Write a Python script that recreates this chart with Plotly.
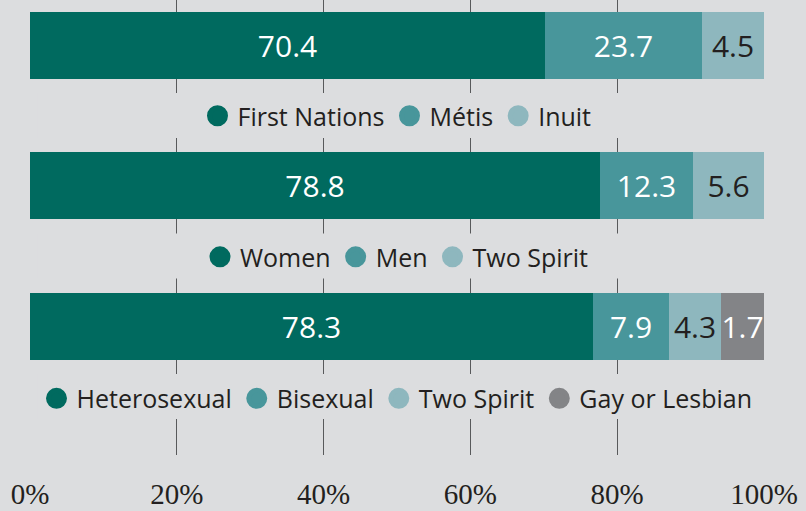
import plotly.graph_objects as go

# ---- data ----
groups = ["Indigenous identity", "Gender", "Sexual orientation"]

identity_names = ["First Nations", "Métis", "Inuit"]
identity_labels = ["70.4", "23.7", "4.5"]
identity_lengths = [70.2, 21.3, 8.5]      # drawn bar lengths (%)

gender_names = ["Women", "Men", "Two Spirit"]
gender_labels = ["78.8", "12.3", "5.6"]
gender_lengths = [77.6, 12.7, 9.7]

orient_names = ["Heterosexual", "Bisexual", "Two Spirit", "Gay or Lesbian"]
orient_labels = ["78.3", "7.9", "4.3", "1.7"]
orient_lengths = [76.7, 10.3, 7.2, 5.8]

tick_vals = [0, 20, 40, 60, 80, 100]
tick_text = ["0%", "20%", "40%", "60%", "80%", "100%"]

# ---- style ----
BG = "#DCDDDF"
COLORS = ["#006A5F", "#48969B", "#8EB7BE", "#838487"]
TEXT_COLORS = ["#FFFFFF", "#FFFFFF", "#231F20", "#FFFFFF"]
DARK = "#231F20"
SANS = "Open Sans"
SERIF = "Liberation Serif"

fig = go.Figure()

sets = [
    (groups[0], identity_names, identity_labels, identity_lengths, "legend"),
    (groups[1], gender_names, gender_labels, gender_lengths, "legend2"),
    (groups[2], orient_names, orient_labels, orient_lengths, "legend3"),
]

for grp, names, labels, lengths, leg in sets:
    for i, (n, lab, v) in enumerate(zip(names, labels, lengths)):
        fig.add_trace(go.Bar(
            y=[grp], x=[v], orientation="h", name=n,
            marker=dict(color=COLORS[i], line=dict(width=0)),
            width=0.475,
            text=[lab], textposition="inside", insidetextanchor="middle",
            textangle=0,
            textfont=dict(family=SANS, size=30, color=TEXT_COLORS[i]),
            showlegend=False, hoverinfo="skip",
        ))
    for i, n in enumerate(names):
        fig.add_trace(go.Scatter(
            x=[None], y=[None], mode="markers", name=n, legend=leg,
            marker=dict(symbol="circle", size=16, color=COLORS[i],
                        line=dict(width=5, color=COLORS[i])),
            showlegend=True, hoverinfo="skip",
        ))

# bands that interrupt the gridlines behind the legend rows
for k in range(3):
    fig.add_shape(type="rect", xref="x", yref="y",
                  x0=1, x1=99, y0=k + 0.5 - 0.16, y1=k + 0.5 + 0.16,
                  fillcolor=BG, line=dict(width=0), layer="between")

leg_common = dict(orientation="h", xanchor="center", x=0.5, yanchor="middle",
                  bgcolor="rgba(0,0,0,0)", borderwidth=0, traceorder="normal",
                  font=dict(family=SANS, size=25, color=DARK),
                  itemclick=False, itemdoubleclick=False)

fig.update_layout(
    width=806, height=511, autosize=False,
    margin=dict(l=30, r=42, t=0, b=56, pad=0),
    paper_bgcolor=BG, plot_bgcolor=BG,
    barmode="stack", bargap=0,
    uniformtext=dict(minsize=30, mode="show"),
    showlegend=True,
    legend=dict(y=0.745, **leg_common),
    legend2=dict(y=0.435, **leg_common),
    legend3=dict(y=0.124, **leg_common),
    xaxis=dict(range=[0, 100], tickvals=tick_vals, ticktext=tick_text,
               showgrid=True, gridcolor="#58595B", gridwidth=1.2,
               zeroline=False, showline=False, ticks="",
               tickfont=dict(family=SERIF, size=29, color=DARK),
               ticklabelstandoff=19, automargin=False, fixedrange=True),
    yaxis=dict(type="category", categoryorder="array", categoryarray=groups,
               range=[2.916, -0.322], showticklabels=False, showgrid=False,
               zeroline=False, showline=False, ticks="", automargin=False,
               fixedrange=True),
)

fig.write_html(
    "out.html",
    config={"displayModeBar": False},
    post_script="document.body.style.margin='0';document.body.style.background='%s';" % BG,
)
